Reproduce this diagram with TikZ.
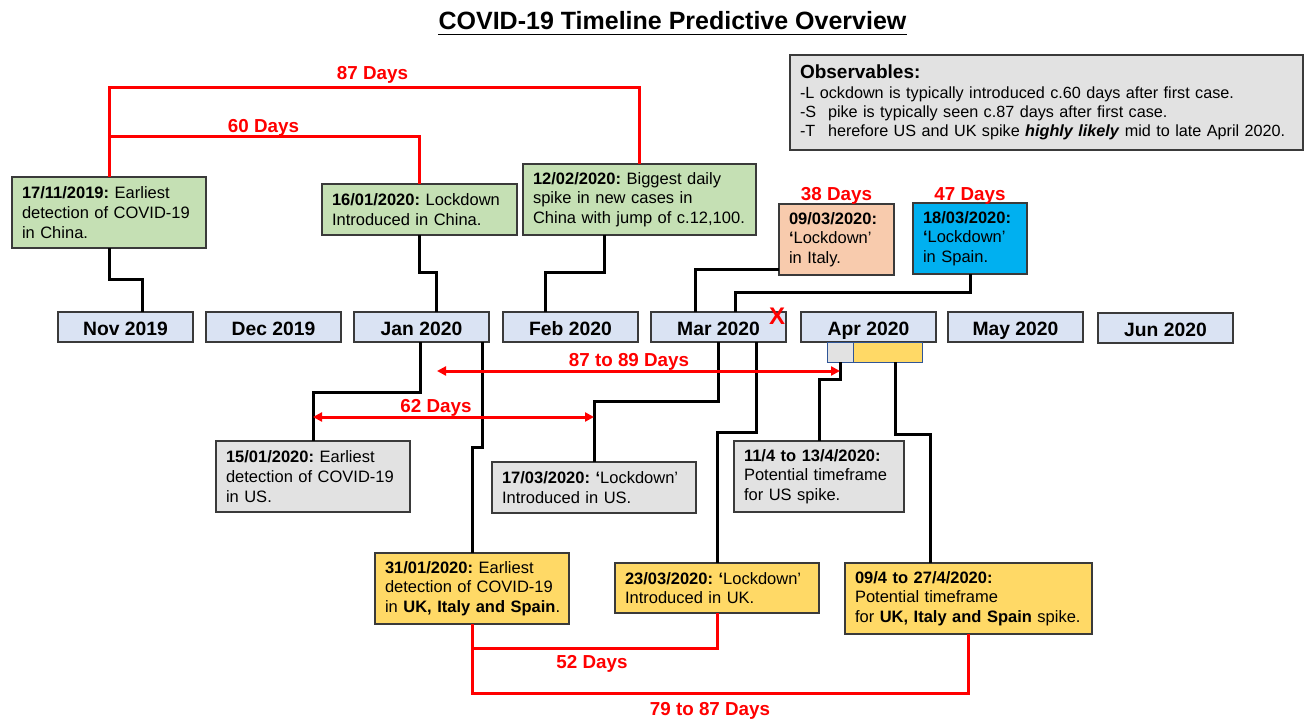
\documentclass[tikz,border=0pt]{standalone}
\usepackage{fontspec}
\setmainfont{Liberation Sans}
\usetikzlibrary{arrows.meta}
\definecolor{cborder}{HTML}{3A3A3A}
\definecolor{cred}{HTML}{FF0000}
\definecolor{cgreen}{HTML}{C5E0B4}
\definecolor{cmonth}{HTML}{DAE3F3}
\definecolor{cgray}{HTML}{E2E2E2}
\definecolor{corange}{HTML}{F8CBAD}
\definecolor{cblue}{HTML}{00B0F0}
\definecolor{cyellow}{HTML}{FFD966}
\definecolor{cedge}{HTML}{2F5597}
\newcommand\nbx[1]{\mbox{#1}}
\frenchspacing
\begin{document}
\begin{tikzpicture}[x=1pt,y=-1pt,
  box/.style={draw=cborder, line width=1.3pt, rectangle, anchor=north west, inner xsep=10pt, inner ysep=0pt, outer sep=0pt, align=left, font=\fontsize{16.5}{19.7}\selectfont},
  month/.style={draw=cborder, line width=1.3pt, fill=cmonth, anchor=north west, minimum height=30pt, minimum width=135pt, inner sep=0pt, outer sep=0pt, text height=17pt, text depth=0pt, font=\bfseries\fontsize{19.3}{22}\selectfont},
  smallbox/.style={draw=cedge, line width=1pt, anchor=north west, minimum height=20pt, inner sep=0pt, outer sep=0pt},
  conn/.style={line width=3pt, black},
  rline/.style={line width=3pt, cred},
  rarr/.style={rline, {Triangle[length=9pt,width=9pt]}-{Triangle[length=9pt,width=9pt]}},
  rlabel/.style={text=cred, font=\bfseries\fontsize{18.8}{22}\selectfont, anchor=base, inner sep=0pt},
]
\useasboundingbox (0,0) rectangle (1313,719);
\fill[white] (0,0) rectangle (1313,719);

% title
\node[inner sep=0pt, anchor=base, font=\bfseries\fontsize{25}{30}\selectfont] (title) at (672.5,30) {COVID-19 Timeline Predictive Overview};
\draw[line width=1.8pt] (title.south west |- 0,34.5) -- (title.south east |- 0,34.5);

% observables
\node[box, fill=cgray, text width=493pt, minimum height=95pt, font=\fontsize{16.2}{19.4}\selectfont] (obs) at (790,55)
 {\nbx{\fontsize{19}{19.4}\selectfont\bfseries Observables:}\\
  \nbx{-L ockdown is typically introduced c.60 days after first case.}\\
  \nbx{\makebox[28pt][l]{-S}pike is typically seen c.87 days after first case.}\\
  \nbx{\makebox[28pt][l]{-T}herefore US and UK spike \textbf{\textit{highly likely}} mid to late April 2020.}};

% upper boxes
\node[box, fill=cgreen, text width=174pt, minimum height=71pt] (b1711) at (12,177)
 {\nbx{\textbf{17/11/2019:} Earliest}\\\nbx{detection of COVID-19}\\\nbx{in China.}};
\node[box, fill=cgreen, text width=175pt, minimum height=51pt] (b1601) at (322,184)
 {\nbx{\textbf{16/01/2020:} Lockdown}\\\nbx{Introduced in China.}};
\node[box, fill=cgreen, text width=213pt, minimum height=71pt] (b1202) at (523,164)
 {\nbx{\textbf{12/02/2020:} Biggest daily}\\\nbx{spike in new cases in}\\\nbx{China with jump of c.12,100.}};
\node[box, fill=corange, text width=95pt, minimum height=71pt] (bita) at (779,204)
 {\nbx{\textbf{09/03/2020:}}\\\nbx{\textbf{‘}Lockdown’}\\\nbx{in Italy.}};
\node[box, fill=cblue, text width=94pt, minimum height=71pt] (bspa) at (913,203)
 {\nbx{\textbf{18/03/2020:}}\\\nbx{\textbf{‘}Lockdown’}\\\nbx{in Spain.}};

% months
\node[month] (nov) at (58,312) {Nov 2019};
\node[month] (dec) at (206,312) {Dec 2019};
\node[month] (jan) at (354,312) {Jan 2020};
\node[month] (feb) at (503,312) {Feb 2020};
\node[month] (mar) at (651,312) {Mar 2020};
\node[month] (apr) at (801,312) {Apr 2020};
\node[month] (may) at (948,312) {May 2020};
\node[month] (jun) at (1098,313) {Jun 2020};

\node[smallbox, fill=cgray, minimum width=26pt] (sgray) at (827,342) {};
\node[smallbox, fill=cyellow, minimum width=69pt] (syel) at (853,342) {};

\node[text=cred, font=\bfseries\fontsize{24}{24}\selectfont, inner sep=0pt] (xmark) at (777,316) {X};

% lower boxes
\node[box, fill=cgray, text width=174pt, minimum height=71pt] (b1501) at (216,441)
 {\nbx{\textbf{15/01/2020:} Earliest}\\\nbx{detection of COVID-19}\\\nbx{in US.}};
\node[box, fill=cgray, text width=184pt, minimum height=51pt] (b1703) at (492,462)
 {\nbx{\textbf{17/03/2020: ‘}Lockdown’}\\\nbx{Introduced in US.}};
\node[box, fill=cgray, text width=150pt, minimum height=71pt] (b114) at (734,441)
 {\nbx{\textbf{11/4 to 13/4/2020:}}\\\nbx{Potential timeframe}\\\nbx{for US spike.}};
\node[box, fill=cyellow, text width=174pt, minimum height=71pt] (b3101) at (375,553)
 {\nbx{\textbf{31/01/2020:} Earliest}\\\nbx{detection of COVID-19}\\\nbx{in \textbf{UK, Italy and Spain}.}};
\node[box, fill=cyellow, text width=184pt, minimum height=50pt] (b2303) at (615,563)
 {\nbx{\textbf{23/03/2020: ‘}Lockdown’}\\\nbx{Introduced in UK.}};
\node[box, fill=cyellow, text width=227pt, minimum height=71pt] (b094) at (845,563)
 {\nbx{\textbf{09/4 to 27/4/2020:}}\\\nbx{Potential timeframe}\\\nbx{for \textbf{UK, Italy and Spain} spike.}};

% black connectors
\draw[conn] (b1711.south) |- (142,279) -- (nov.north -| 142,0);
\draw[conn] (b1601.south) |- (436,272) -- (jan.north -| 436,0);
\draw[conn] (b1202.south -| 604,0) |- (545,272) -- (feb.north -| 545,0);
\draw[conn] (bita.west |- 0,269) -| (mar.north -| 695,0);
\draw[conn] (bspa.south) |- (735,292) -- (mar.north -| 735,0);
\draw[conn] (jan.south -| 420,0) |- (313,392) -- (b1501.north);
\draw[conn] (jan.south -| 482,0) |- (472,447) -- (b3101.north);
\draw[conn] (mar.south -| 718,0) |- (594,401) -- (b1703.north);
\draw[conn] (mar.south -| 756,0) |- (717,432) -- (b2303.north);
\draw[conn] (sgray.south) |- (819,379) -- (b114.north);
\draw[conn] (syel.south -| 895,0) |- (930,434) -- (b094.north -| 930,0);

% red connectors
\draw[rline] (b1711.north) |- (b1202.north |- 0,88) -- (b1202.north);
\coordinate (j60) at (b1711.north |- 0,137);
\draw[rline] (j60) -| (b1601.north);
\draw[rline] (b3101.south) |- (b2303.south |- 0,648) -- (b2303.south);
\draw[rline] (b3101.south) |- (b094.south |- 0,693) -- (b094.south);
\coordinate (a87l) at (437,371);
\coordinate (a87r) at (840,371);
\draw[rarr] (a87l) -- (a87r);
\draw[rarr] (b1501.north |- 0,417) -- (b1703.north |- 0,417);

% red labels
\node[rlabel] (l87) at (372.5,80) {87 Days};
\node[rlabel] (l60) at (263.5,133) {60 Days};
\node[rlabel] (l38) at (836.5,201) {38 Days};
\node[rlabel] (l47) at (970,201) {47 Days};
\node[rlabel] (l8789) at (629,366) {87 to 89 Days};
\node[rlabel] (l62) at (436,412) {62 Days};
\node[rlabel] (l52) at (592,668) {52 Days};
\node[rlabel] (l7987) at (710,715) {79 to 87 Days};
\end{tikzpicture}
\end{document}
